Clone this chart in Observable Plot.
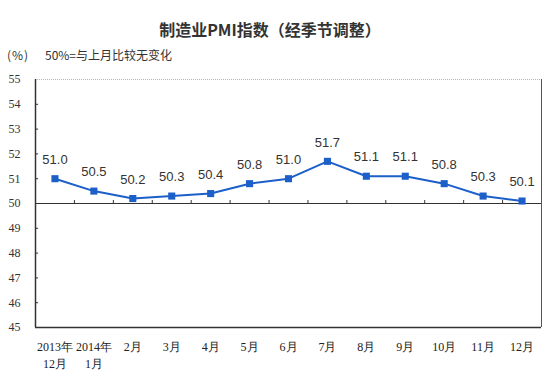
<!DOCTYPE html>
<html><head><meta charset="utf-8">
<script src="https://cdn.jsdelivr.net/npm/d3@7"></script>
<script src="https://cdn.jsdelivr.net/npm/@observablehq/plot@0.6"></script>
<style>
body{margin:0;background:#fff;}
#wrap{position:relative;width:550px;height:375px;overflow:hidden;}
#title{position:absolute;left:0;width:540px;top:17px;text-align:center;font:bold 16px "Noto Sans CJK SC";color:#333;}
#unit{position:absolute;left:7px;top:46px;font:12px "Noto Sans CJK SC";color:#333;letter-spacing:1px;}
#note{position:absolute;left:45px;top:46px;font:12px "Noto Sans CJK SC";color:#333;}
#chart{position:absolute;left:0;top:0;}
</style></head>
<body>
<div id="wrap">
<div id="chart"></div>
<div id="title">制造业PMI指数（经季节调整）</div>
<div id="unit">(%)</div>
<div id="note">50%=与上月比较无变化</div>
</div>
<script>
const categories = ["2013年\n12月","2014年\n1月","2月","3月","4月","5月","6月","7月","8月","9月","10月","11月","12月"];
const pmi = [51.0,50.5,50.2,50.3,50.4,50.8,51.0,51.7,51.1,51.1,50.8,50.3,50.1];
const yTicks = [45,46,47,48,49,50,51,52,53,54,55];
const baseline = 50;

const data = pmi.map((v,i)=>({i, v}));
const bounds = categories.slice(1).map((_,k)=>k+0.5);
const n = categories.length;
const blue = "#1d5fc9";

const plot = Plot.plot({
  width:550, height:375,
  marginLeft:35, marginRight:9, marginTop:79, marginBottom:48,
  x:{domain:[-0.5, n-0.5], axis:null},
  y:{domain:[45,55], axis:null},
  style:{fontFamily:"Liberation Serif", background:"transparent"},
  marks:[
    Plot.ruleY([55], {x1:-0.5, x2:n-0.5, stroke:"#c9b48a", strokeDasharray:"1,1"}),
    Plot.ruleY([45], {x1:-0.5, x2:n-0.5, stroke:"#333", strokeWidth:1.5}),
    Plot.ruleX([-0.5], {y1:45, y2:55, stroke:"#333", strokeWidth:1.5}),
    Plot.ruleX([n-0.5], {y1:45, y2:55, stroke:"#555", strokeWidth:1}),
    Plot.ruleY([baseline], {x1:-0.5, x2:n-0.5, stroke:"#333", strokeWidth:1}),
    Plot.ruleX(bounds, {y1:baseline, y2:baseline+0.12, stroke:"#333"}),
    Plot.ruleY(yTicks.slice(1,-1), {x1:-0.5, x2:-0.42, stroke:"#333"}),
    Plot.text(yTicks, {x:-0.5, y:d=>d, text:d=>String(d), dx:-15, textAnchor:"end", fontSize:12, fill:"#333", fontFamily:"Liberation Serif"}),
    Plot.text(categories, {x:(d,i)=>i, y:45, text:d=>d, dy:12, lineAnchor:"top", lineHeight:1.4, fontSize:12, fill:"#222", fontFamily:"Liberation Serif"}),
    Plot.line(data, {x:"i", y:"v", stroke:blue, strokeWidth:2}),
    Plot.dot(data, {x:"i", y:"v", symbol:"square", r:4, fill:blue, stroke:"none"}),
    Plot.text(data, {x:"i", y:"v", text:d=>d.v.toFixed(1), dy:-19, fontSize:13, fill:"#333", fontFamily:"Liberation Sans"})
  ]
});
document.getElementById("chart").appendChild(plot);
</script>
</body></html>
